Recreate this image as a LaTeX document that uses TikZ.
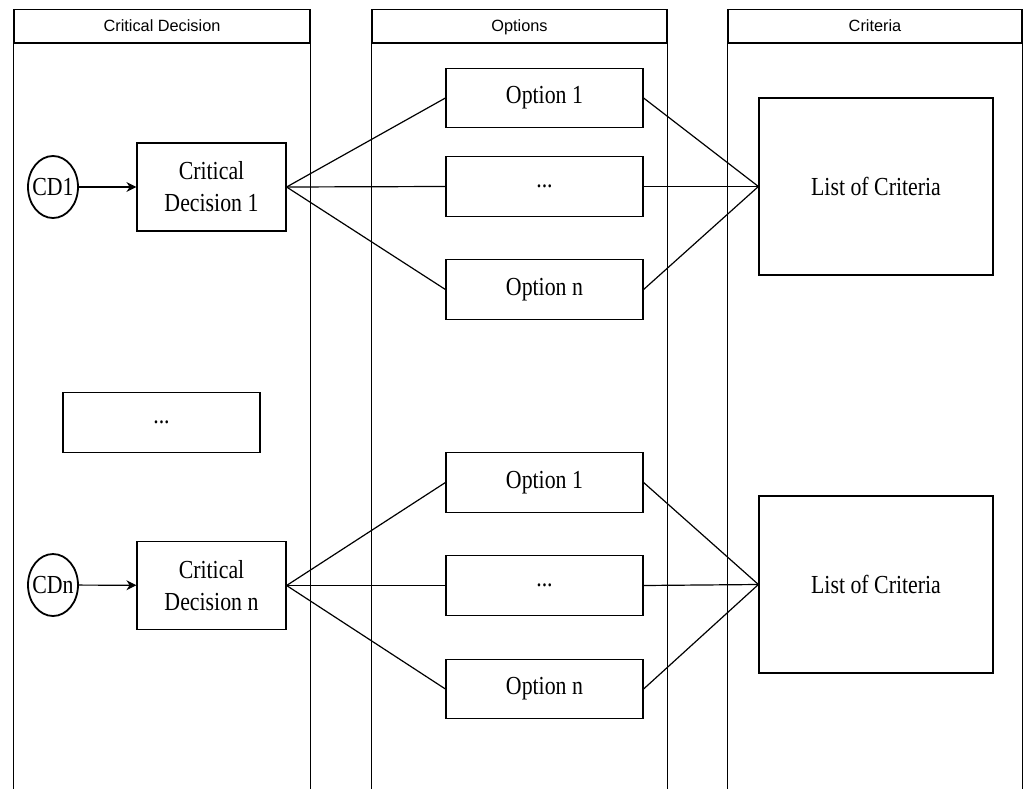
\documentclass[tikz,border=0pt]{standalone}
\usepackage{fontspec}
\setmainfont[FakeStretch=0.84]{Liberation Serif}
\newfontfamily\headfont{Liberation Sans}
\usepackage{tikz}
\usetikzlibrary{shapes,arrows.meta,positioning,calc}

\newcommand{\boxtext}{\fontsize{26}{32}\selectfont}
\newcommand{\headtext}{\headfont\fontsize{16.3}{19}\selectfont}

\begin{document}
\begin{tikzpicture}[x=1pt,y=-1pt,
    line width=1.2pt,
    lane/.style={draw,minimum height=33.5pt,inner sep=0pt,text height=12pt,text depth=0.5pt,font=\headtext},
    choice/.style={draw,minimum width=197pt,minimum height=59.5pt,inner sep=0pt,font=\boxtext},
    decision/.style={draw,minimum width=149pt,minimum height=88pt,inner sep=0pt,align=center,font=\boxtext},
    crit/.style={draw,minimum width=234pt,minimum height=177pt,inner sep=0pt,font=\boxtext},
    start/.style={draw,ellipse,line width=1.8pt,minimum width=50pt,minimum height=62pt,inner xsep=-3pt,inner ysep=0pt,font=\boxtext},
    flow/.style={-{Stealth[length=10pt,width=10pt]}},
    link/.style={line width=1.2pt}]
      \useasboundingbox (0,0) rectangle (1027,789);

      \coordinate (A) at (53,187);
      \coordinate (B) at (211.5,187);
      \coordinate (C) at (53,585);
      \coordinate (D) at (211.5,585.5);
      \coordinate (E) at (161.5,422.5);
      \coordinate (F) at (876,186.5);
      \coordinate (G) at (876,584.5);

      % swimlanes
      \node[lane,minimum width=296pt] (lcd) at (162,26.25) {Critical Decision};
      \node[lane,minimum width=295pt] (lop) at (519.5,26.25) {Options};
      \node[lane,minimum width=294pt] (lcr) at (875,26.25) {Criteria};
      \foreach \l in {lcd,lop,lcr} {
        \draw (\l.south west) -- (\l.south west |- 0,789);
        \draw (\l.south east) -- (\l.south east |- 0,789);
      }

      % first decision
      \node[start] (cd1) at (A) {CD1};
      \node[decision] (dec1) at (B) {Critical\\Decision 1};
      \node[choice] (op11) at (544.5,98) {Option 1};
      \node[choice] (op12) at (544.5,186.5) {...};
      \node[choice] (op1n) at (544.5,289.5) {Option n};
      \node[crit] (cr1) at (F) {List of Criteria};

      \node[choice] (decm) at (E) {...};

      % last decision
      \node[start] (cdn) at (C) {CDn};
      \node[decision] (decn) at (D) {Critical\\Decision n};
      \node[choice] (opn1) at (544.5,482.5) {Option 1};
      \node[choice] (opn2) at (544.5,585.5) {...};
      \node[choice] (opnn) at (544.5,689) {Option n};
      \node[crit] (crn) at (G) {List of Criteria};

      \draw[flow] (cd1) -- (dec1);
      \draw[flow] (cdn) -- (decn);
      \foreach \o in {op11,op12,op1n} {
        \draw[link] (dec1.east) -- (\o.west);
        \draw[link] (\o.east) -- (cr1.west);
      }
      \foreach \o in {opn1,opn2,opnn} {
        \draw[link] (decn.east) -- (\o.west);
        \draw[link] (\o.east) -- (crn.west);
      }
\end{tikzpicture}
\end{document}
